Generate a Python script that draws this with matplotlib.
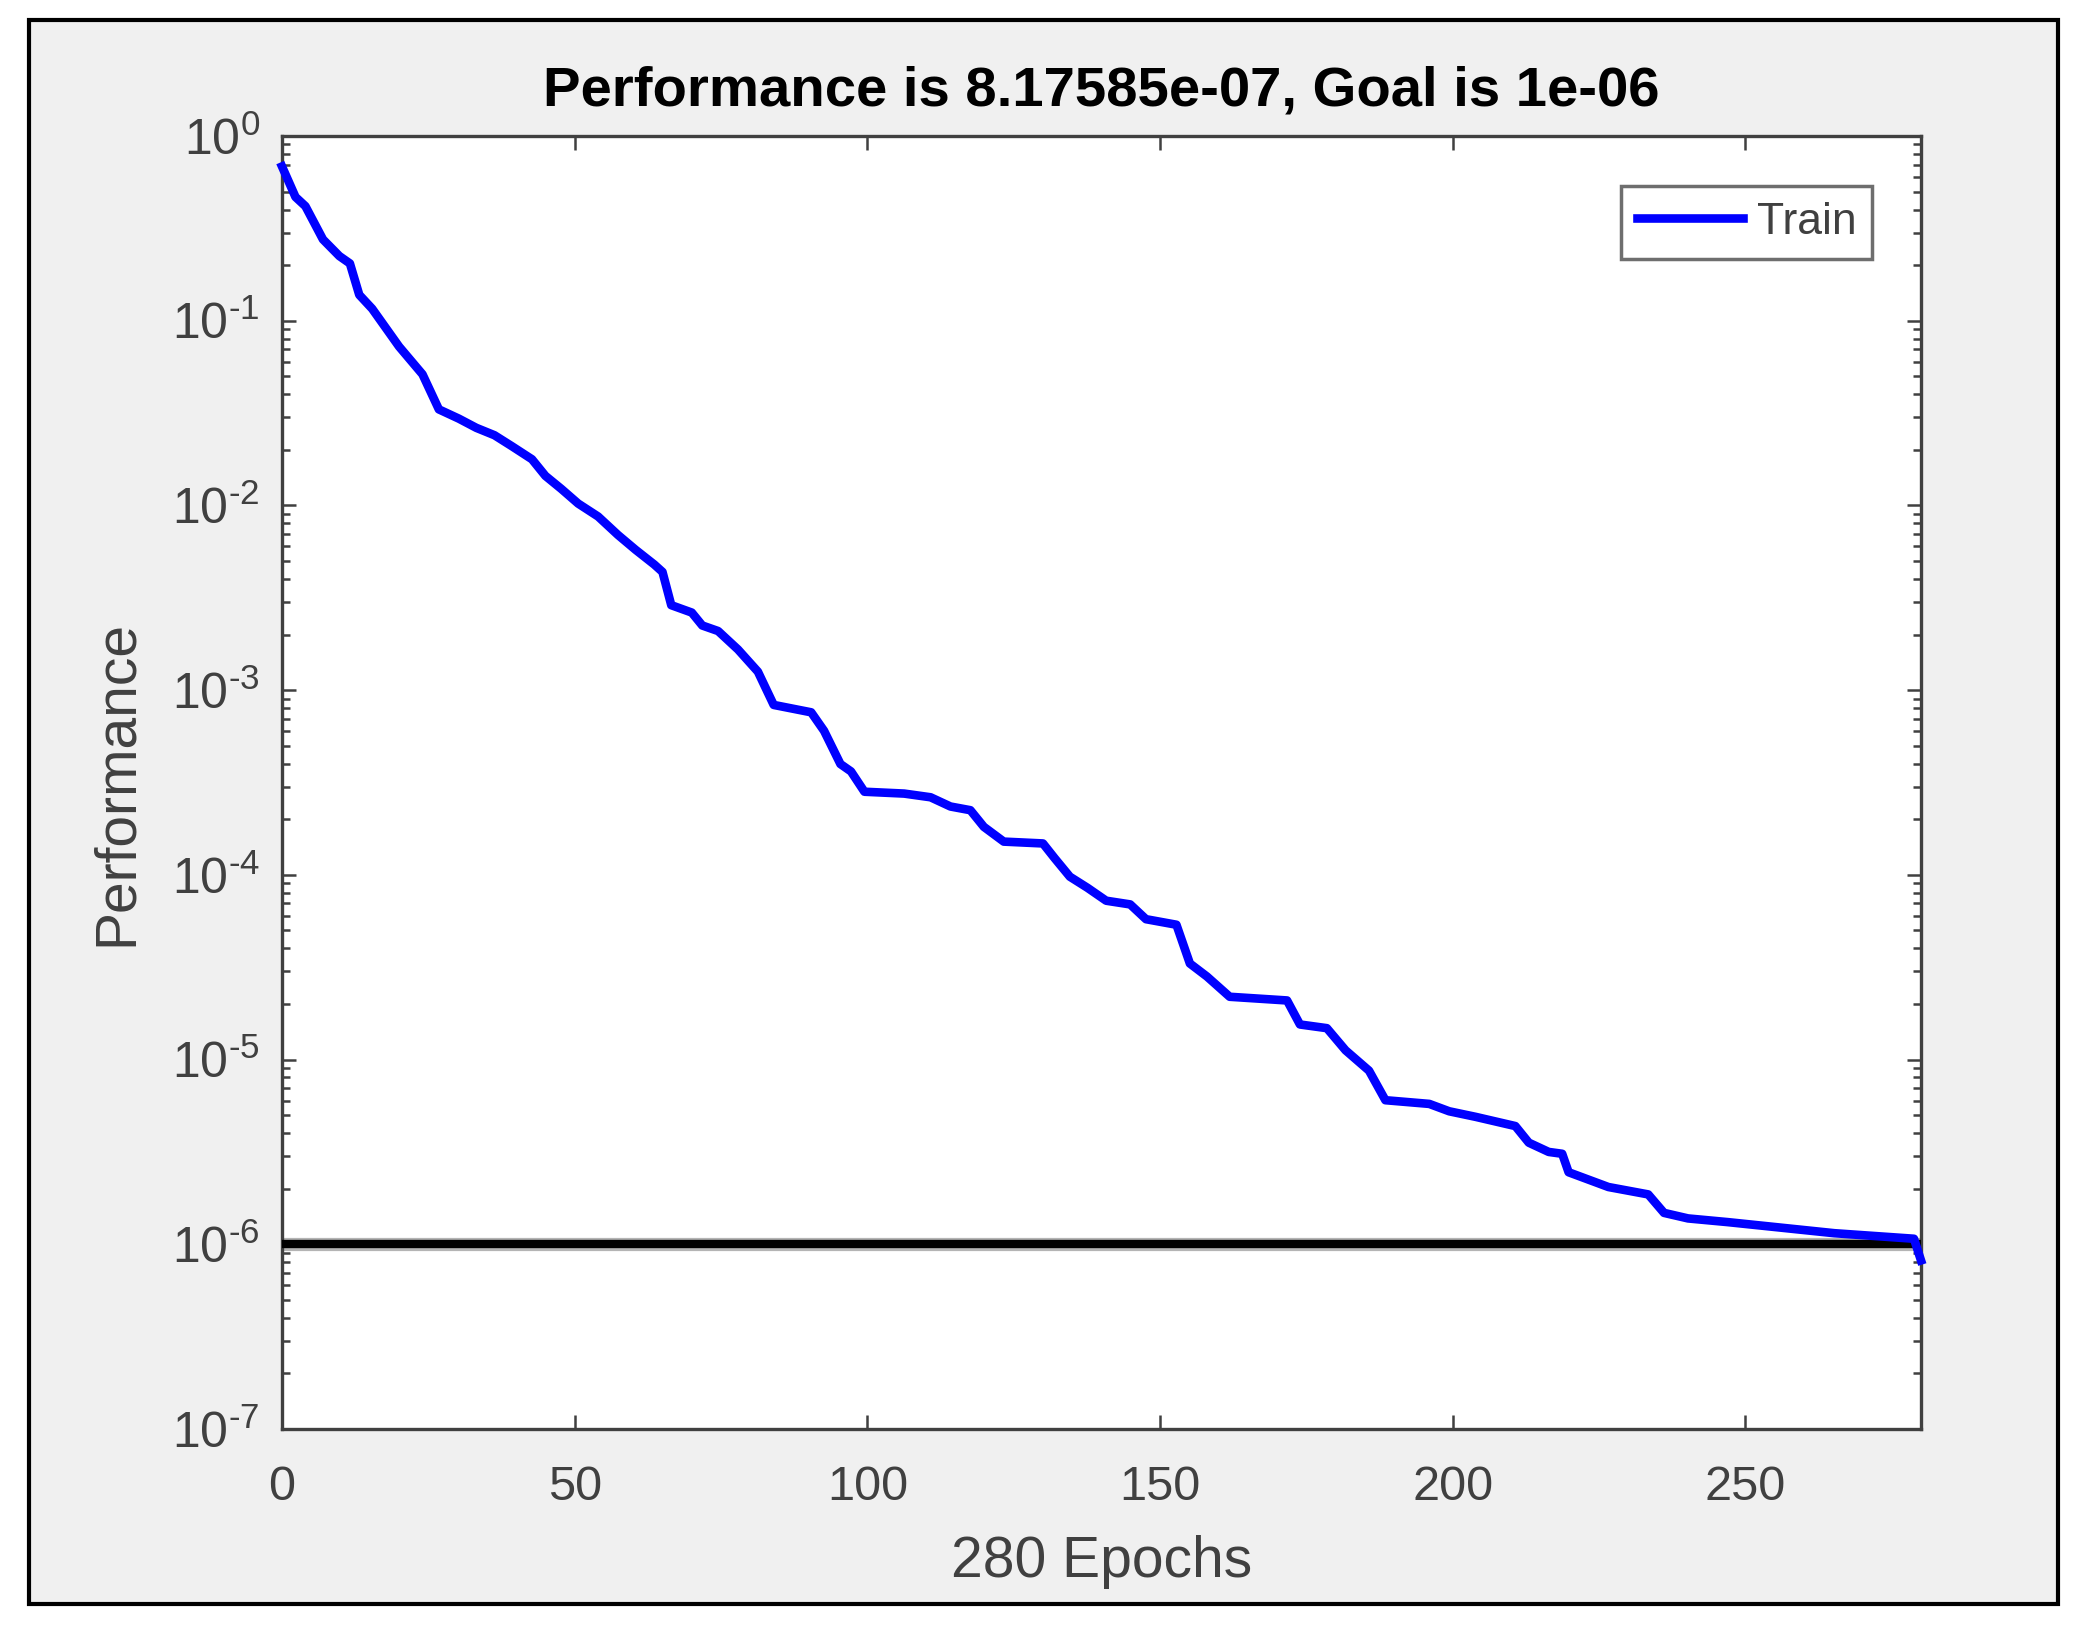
import numpy as np
import matplotlib
matplotlib.use("Agg")
import matplotlib.pyplot as plt
from matplotlib.patches import Rectangle
from matplotlib.ticker import LogLocator, NullFormatter

plt.rcParams['font.family'] = ['Liberation Sans', 'DejaVu Sans']
plt.rcParams['mathtext.fontset'] = 'custom'
plt.rcParams['mathtext.rm'] = 'Liberation Sans'
plt.rcParams['mathtext.default'] = 'regular'

# training record (epoch, performance)
epochs = [0, 2.3, 4, 7, 9.8, 11.6, 13.2, 15.4, 20, 24, 26.8, 30.2, 33.2, 36.3,
          39.3, 42.7, 45, 47.7, 50.6, 54, 57.4, 60.4, 63.6, 65, 66.5, 70, 71.8,
          74.5, 77.9, 81.3, 84, 90.4, 92.6, 95.4, 97.2, 99.5, 106.3, 110.8,
          114.2, 117.6, 119.9, 123.3, 130, 132, 134.6, 137.6, 140.8, 144.9,
          147.6, 152.8, 155.1, 158, 161.9, 171.7, 173.9, 178.5, 181.7, 185.7,
          188.5, 196, 199.4, 203.9, 210.7, 213, 216.4, 218.7, 219.8, 223.2,
          226.6, 233.4, 236.1, 240.2, 247, 256.1, 265.2, 278.8, 280]
log_perf = [-0.165, -0.33, -0.38, -0.56, -0.65, -0.69, -0.86, -0.935, -1.14,
            -1.29, -1.48, -1.53, -1.58, -1.62, -1.68, -1.75, -1.84, -1.91,
            -1.99, -2.06, -2.16, -2.24, -2.32, -2.36, -2.54, -2.58, -2.65,
            -2.68, -2.78, -2.90, -3.08, -3.12, -3.22, -3.40, -3.44, -3.55,
            -3.56, -3.58, -3.63, -3.65, -3.74, -3.82, -3.83, -3.91, -4.01,
            -4.07, -4.14, -4.16, -4.24, -4.27, -4.48, -4.55, -4.66, -4.68,
            -4.81, -4.83, -4.95, -5.06, -5.22, -5.24, -5.28, -5.31, -5.36,
            -5.45, -5.50, -5.51, -5.61, -5.65, -5.69, -5.73, -5.83, -5.86,
            -5.88, -5.91, -5.94, -5.97, -6.0875]
performance = [10 ** v for v in log_perf]
goal = 1e-6
n_epochs = 280

xticks = [0, 50, 100, 150, 200, 250]
yticks = [1e-7, 1e-6, 1e-5, 1e-4, 1e-3, 1e-2, 1e-1, 1e0]
ytick_labels = [r'$10^{\text{-}7}$', r'$10^{\text{-}6}$', r'$10^{\text{-}5}$',
                r'$10^{\text{-}4}$', r'$10^{\text{-}3}$', r'$10^{\text{-}2}$',
                r'$10^{\text{-}1}$', r'$10^{0}$']

W, H = 2085, 1627
fig = plt.figure(figsize=(W / 100, H / 100), dpi=100, facecolor='white')
fig.add_artist(Rectangle((29 / W, 1 - 1604 / H), (2058 - 29) / W, (1604 - 20) / H,
                         transform=fig.transFigure, facecolor='#f0f0f0',
                         edgecolor='black', linewidth=3, zorder=0))

ax = fig.add_axes([282 / W, 1 - 1429 / H, (1921 - 282) / W, (1429 - 136) / H])
ax.set_facecolor('white')

ax.axhline(goal, color='#b4b4b4', linewidth=9.5, zorder=2)
ax.axhline(goal, color='black', linewidth=6, zorder=3)
ax.plot(epochs, performance, color='#0000ff', linewidth=6.2, label='Train',
        zorder=4, clip_on=False)

ax.set_yscale('log')
ax.set_xlim(0, n_epochs)
ax.set_ylim(1e-7, 1)
ax.set_xticks(xticks)
ax.set_yticks(yticks)
ax.set_yticklabels(ytick_labels)
ax.yaxis.set_minor_locator(LogLocator(base=10, subs=np.arange(2, 10), numticks=20))
ax.yaxis.set_minor_formatter(NullFormatter())

gray = '#404040'
for s in ax.spines.values():
    s.set_color(gray)
    s.set_linewidth(2.4)
ax.tick_params(which='both', direction='in', top=True, right=True,
               color=gray, width=1.8, labelcolor=gray)
ax.tick_params(which='major', length=10)
ax.tick_params(which='minor', length=6)
ax.tick_params(axis='x', labelsize=35, pad=26)
ax.tick_params(axis='y', labelsize=36, pad=16)

ax.set_title('Performance is 8.17585e-07, Goal is 1e-06', fontsize=40.5,
             fontweight='bold', color='black', pad=22)
ax.set_xlabel('280 Epochs', fontsize=41, color=gray)
ax.set_ylabel('Performance', fontsize=41, color=gray)
ax.xaxis.label.set_va('center')
ax.xaxis.set_label_coords(0.5, -(1562 - 1429) / 1293)
ax.yaxis.label.set_va('center')
ax.yaxis.label.set_ha('center')
ax.yaxis.set_label_coords(-(282 - 117) / 1639, 0.5)

leg = ax.legend(loc='upper right', bbox_to_anchor=(0.970, 0.961),
                borderaxespad=0, fontsize=32, fancybox=False, framealpha=1,
                edgecolor='#6e6e6e', handlelength=2.4, handletextpad=0.3,
                borderpad=0.35)
leg.get_frame().set_linewidth(2.5)
for t in leg.get_texts():
    t.set_color(gray)

fig.savefig('out.png', dpi=100, facecolor='white')
